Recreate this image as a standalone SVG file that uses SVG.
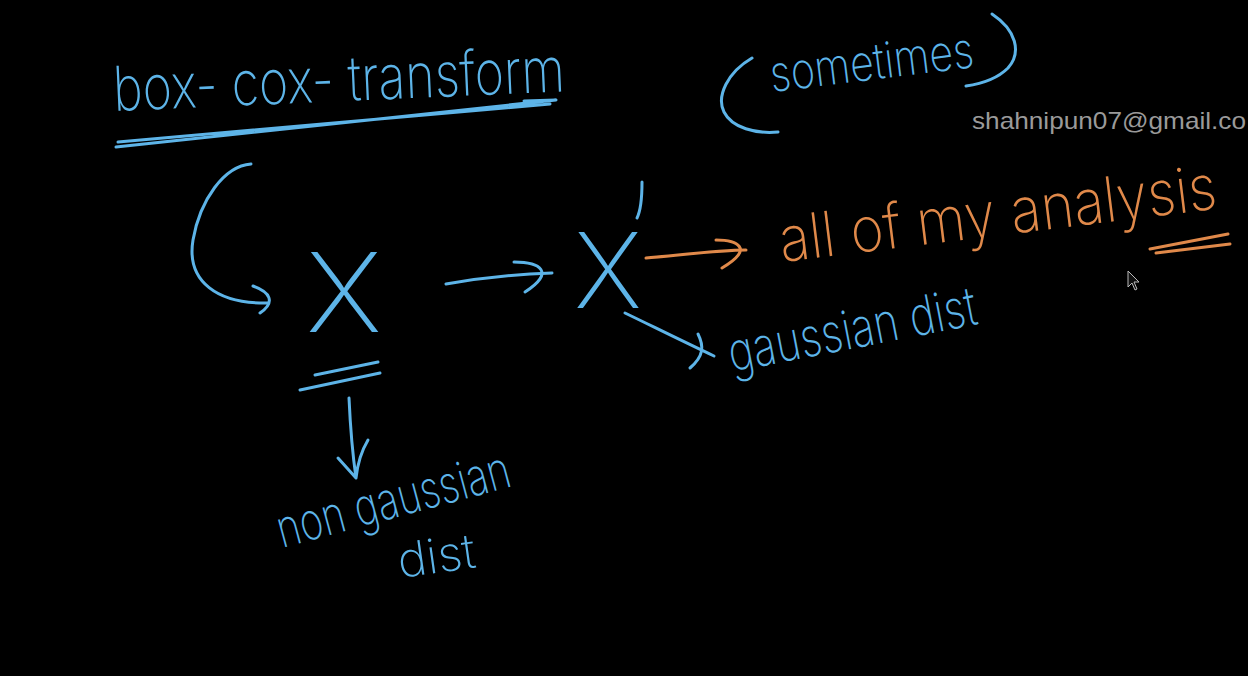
<svg xmlns="http://www.w3.org/2000/svg" width="1248" height="676" viewBox="0 0 1248 676">
<style>
.bg{fill:#000}
.b{fill:none;stroke:#5db4e8;stroke-width:3;stroke-linecap:round;stroke-linejoin:round}
.o{fill:none;stroke:#e0894a;stroke-width:3;stroke-linecap:round;stroke-linejoin:round}
.tb{fill:#5db4e8;font-family:Inter,"DejaVu Sans",sans-serif;font-weight:200}
.to{fill:#e0894a;font-family:Inter,"DejaVu Sans",sans-serif;font-weight:200}
.mail{fill:#9a9a9a;font-family:"Liberation Sans",Arial,sans-serif;font-size:24px}
</style>
<rect class="bg" x="0" y="0" width="1248" height="676"/>
<g id="title">
<text class="tb" x="114" y="111" font-size="62" transform="rotate(-2.5 114 111)" textLength="452" lengthAdjust="spacingAndGlyphs">box- cox- transform</text>
<path class="b" d="M116 147 L556 100 L524 101 M118 142 L550 104"/>
</g>
<g id="sometimes">
<path class="b" d="M752 58 C728 72 716 96 724 112 C732 128 756 134 778 132"/>
<text class="tb" x="772" y="92" font-size="50" transform="rotate(-7 772 92)" textLength="205" lengthAdjust="spacingAndGlyphs">sometimes</text>
<path class="b" d="M992 14 C1016 30 1022 52 1008 68 C996 80 980 84 966 86"/>
</g>
<g id="watermark">
<text class="mail" x="972" y="129" textLength="274" lengthAdjust="spacingAndGlyphs">shahnipun07@gmail.co</text>
</g>
<g id="nodeX">
<text class="tb" x="306" y="332" font-size="110" font-weight="100" textLength="76" lengthAdjust="spacingAndGlyphs">X</text>
</g>
<g id="nodeXprime">
<text class="tb" x="574" y="308" font-size="104" font-weight="100" textLength="68" lengthAdjust="spacingAndGlyphs">X</text>
<path class="b" d="M642 182 C642 196 641 210 637 218"/>
</g>
<g id="analysis">
<g transform="translate(782 262) rotate(-7) scale(1 1.2)">
<text class="to" x="0" y="0" font-size="52" textLength="440" lengthAdjust="spacingAndGlyphs">all of my analysis</text>
</g>
<path class="o" d="M1150 249 L1228 234 M1156 253 L1230 244"/>
</g>
<g id="gaussian">
<text class="tb" x="732" y="372" font-size="54" transform="rotate(-11 732 372)" textLength="252" lengthAdjust="spacingAndGlyphs">gaussian dist</text>
</g>
<g id="nongaussian">
<text class="tb" x="282" y="548" font-size="52" transform="rotate(-15 282 548)" textLength="240" lengthAdjust="spacingAndGlyphs">non gaussian</text>
<text class="tb" x="400" y="578" font-size="48" transform="rotate(-8 400 578)" textLength="78" lengthAdjust="spacingAndGlyphs">dist</text>
</g>
<g id="cursor">
<path d="M1128 271 L1128 287 L1132 283 L1135 290 L1137 289 L1134 282 L1139 282 Z" fill="#111" stroke="#bbb" stroke-width="1"/>
</g>
<g id="connectors">
<path class="b" d="M251 164 C224 166 200 200 193 240 C186 282 218 304 268 303"/>
<path class="b" d="M253 286 C270 292 276 302 260 313"/>
<path class="b" d="M446 284 C480 278 520 274 552 273"/>
<path class="b" d="M514 262 C540 262 556 272 525 292"/>
<path class="o" d="M646 258 C680 255 720 250 746 250"/>
<path class="o" d="M716 240 C736 240 756 248 722 268"/>
<path class="b" d="M625 313 C650 325 680 340 714 356"/>
<path class="b" d="M698 334 C704 346 704 356 690 368"/>
<path class="b" d="M315 375 L378 362 M300 390 L380 373"/>
<path class="b" d="M349 398 C350 420 352 450 356 478 C358 460 362 450 368 440 M338 458 L356 478"/>
</g>
</svg>
